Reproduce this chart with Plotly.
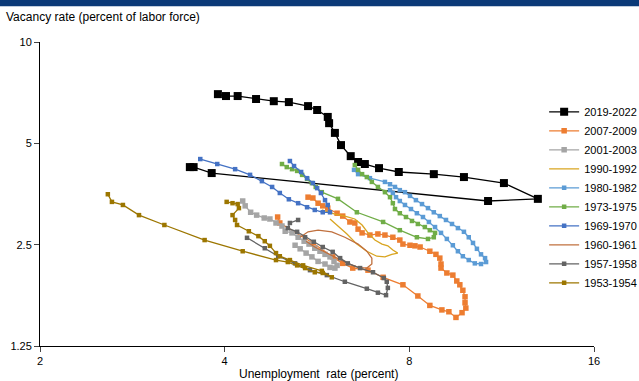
import plotly.graph_objects as go

# ---- data (unemployment %, vacancy % of labor force) ----
u_2019 = [3.51, 3.56, 3.81, 10.75, 12.96, 11.41, 9.82, 8.77, 7.69, 7.14, 6.77, 6.60, 6.42, 6.19, 6.05,
          5.92, 5.89, 5.66, 5.47, 5.09, 4.81, 4.50, 4.20, 4.02, 3.90]
v_2019 = [4.25, 4.25, 4.08, 3.37, 3.42, 3.81, 3.97, 4.05, 4.11, 4.22, 4.34, 4.40, 4.58, 4.94, 5.37,
          5.74, 5.99, 6.28, 6.45, 6.63, 6.67, 6.77, 6.91, 6.91, 7.00]

u_2007 = [5.47, 5.57, 5.68, 5.78, 5.89, 6.10, 6.23, 6.40, 6.52, 6.60, 6.70, 6.90, 7.11, 7.30, 7.52, 7.72,
          7.81, 8.02, 8.17, 8.33, 8.64, 8.84, 8.97, 9.01, 9.01, 9.21, 9.42, 9.56, 9.67, 9.78, 9.86, 9.86,
          9.89, 9.75, 9.53, 9.28, 9.04, 8.64, 8.26, 7.81, 7.25, 6.85, 6.47, 6.23, 6.00, 5.57, 4.92, 4.88]
v_2007 = [3.46, 3.44, 3.32, 3.26, 3.21, 3.10, 3.04, 2.92, 2.90, 2.78, 2.71, 2.67, 2.69, 2.67, 2.63, 2.58,
          2.51, 2.49, 2.48, 2.46, 2.39, 2.34, 2.28, 2.19, 2.13, 2.06, 2.03, 1.95, 1.90, 1.83, 1.75, 1.68,
          1.62, 1.57, 1.52, 1.58, 1.60, 1.65, 1.76, 1.90, 2.00, 2.10, 2.13, 2.20, 2.30, 2.53, 2.90, 3.02]

u_2001 = [4.28, 4.32, 4.41, 4.51, 4.64, 4.74, 4.85, 4.96, 5.02, 5.15, 5.27, 5.39, 5.49, 5.61, 5.72, 5.83,
          5.94, 6.03, 6.10, 6.05, 5.94, 5.83, 5.68, 5.55, 5.43, 5.31, 5.21]
v_2001 = [3.37, 3.26, 3.12, 3.06, 3.00, 2.98, 2.90, 2.84, 2.74, 2.71, 2.63, 2.56, 2.51, 2.44, 2.39, 2.34,
          2.30, 2.23, 2.17, 2.13, 2.14, 2.19, 2.23, 2.30, 2.36, 2.43, 2.49]

u_1990 = [5.76, 6.05, 6.28, 6.52, 6.70, 6.85, 7.03, 7.22, 7.38, 7.52, 7.66, 7.49, 7.30, 7.08, 6.82, 6.57,
          6.33, 6.12, 5.94]
v_1990 = [3.17, 3.08, 3.04, 2.98, 2.86, 2.71, 2.58, 2.51, 2.48, 2.41, 2.36, 2.34, 2.30, 2.31, 2.39, 2.51,
          2.69, 2.84, 2.98]

u_1980 = [6.50, 6.60, 6.90, 7.30, 7.44, 7.58, 7.72, 7.87, 8.02, 8.20, 8.39, 8.58, 8.77, 8.97, 9.18, 9.39,
          9.60, 9.82, 10.00, 10.16, 10.31, 10.47, 10.63, 10.67, 10.47, 10.23, 10.00, 9.78, 9.60, 9.42,
          9.21, 9.01, 8.81, 8.61, 8.42, 8.23, 8.05, 7.87, 7.72, 7.61, 7.52, 7.44]
v_1980 = [4.17, 4.05, 3.94, 3.84, 3.78, 3.71, 3.63, 3.58, 3.49, 3.39, 3.30, 3.21, 3.12, 3.04, 2.96, 2.88,
          2.80, 2.73, 2.63, 2.53, 2.43, 2.34, 2.28, 2.22, 2.19, 2.20, 2.25, 2.31, 2.39, 2.49,
          2.60, 2.71, 2.82, 2.92, 3.02, 3.10, 3.19, 3.28, 3.37, 3.46, 3.56, 3.63]

u_1973 = [4.96, 5.05, 5.15, 5.25, 5.35, 5.45, 5.55, 5.63, 5.76, 6.12, 6.57, 7.25, 7.72, 8.23, 8.58, 8.77,
          8.81, 8.64, 8.48, 8.26, 8.08, 7.90, 7.72, 7.58, 7.52, 7.44, 7.30, 7.11, 6.95, 6.82, 6.70, 6.60, 6.52]
v_1973 = [4.34, 4.25, 4.19, 4.14, 4.03, 3.92, 3.81, 3.71, 3.58, 3.42, 3.12, 2.92, 2.76, 2.63, 2.60, 2.63,
          2.71, 2.76, 2.82, 2.88, 2.94, 3.02, 3.10, 3.19, 3.32, 3.46, 3.58, 3.71, 3.84, 3.97, 4.05, 4.17, 4.31]

u_1969 = [3.65, 3.89, 4.16, 4.40, 4.60, 4.78, 4.92, 5.09, 5.27, 5.45, 5.61, 5.78, 5.94, 5.89, 5.83, 5.74,
          5.66, 5.57, 5.45, 5.33, 5.19, 5.11]
v_1969 = [4.49, 4.34, 4.19, 4.03, 3.86, 3.71, 3.56, 3.41, 3.32, 3.23, 3.17, 3.12, 3.12, 3.28, 3.39, 3.56,
          3.68, 3.81, 3.94, 4.11, 4.28, 4.43]

u_1960 = [5.31, 5.47, 5.68, 5.98, 6.28, 6.60, 6.82, 6.95, 6.95, 6.82, 6.60, 6.35, 6.10, 5.83, 5.61, 5.43]
v_1960 = [2.63, 2.73, 2.76, 2.73, 2.63, 2.51, 2.39, 2.28, 2.19, 2.13, 2.14, 2.20, 2.28, 2.38, 2.46, 2.56]

u_1957 = [4.35, 4.65, 4.89, 5.21, 5.51, 5.87, 6.28, 6.82, 7.11, 7.33, 7.38, 7.35, 7.27, 6.98, 6.65, 6.35,
          6.17, 6.00, 5.78, 5.59, 5.41, 5.25, 5.07, 5.11, 5.27]
v_1957 = [2.62, 2.44, 2.31, 2.20, 2.10, 2.03, 1.94, 1.85, 1.80, 1.77, 1.86, 1.94, 1.99, 2.07, 2.13, 2.20,
          2.28, 2.38, 2.46, 2.55, 2.63, 2.73, 2.80, 2.90, 2.96]

u_1953 = [2.58, 2.62, 2.73, 2.90, 3.19, 3.71, 4.28, 4.85, 5.07, 5.25, 5.41, 5.61, 5.78, 5.98, 5.76, 5.37,
          5.11, 4.92, 4.85, 4.74, 4.65, 4.54, 4.38, 4.19, 4.16, 4.12, 4.22, 4.20, 4.12, 4.03]
v_1953 = [3.53, 3.35, 3.28, 3.06, 2.86, 2.58, 2.39, 2.25, 2.22, 2.17, 2.13, 2.07, 2.06, 2.00, 2.09, 2.17,
          2.25, 2.31, 2.36, 2.48, 2.56, 2.65, 2.74, 2.86, 2.96, 3.06, 3.21, 3.30, 3.32, 3.35]

series = [
    ("2019-2022", u_2019, v_2019, "#000000", 8),
    ("2007-2009", u_2007, v_2007, "#ED7D31", 5.5),
    ("2001-2003", u_2001, v_2001, "#A5A5A5", 5.5),
    ("1990-1992", u_1990, v_1990, "#D9A521", 0),
    ("1980-1982", u_1980, v_1980, "#5B9BD5", 4.5),
    ("1973-1975", u_1973, v_1973, "#70AD47", 4.5),
    ("1969-1970", u_1969, v_1969, "#4472C4", 4.5),
    ("1960-1961", u_1960, v_1960, "#C0703E", 0),
    ("1957-1958", u_1957, v_1957, "#636363", 4.5),
    ("1953-1954", u_1953, v_1953, "#9C7600", 4.5),
]

fig = go.Figure()
for name, u, v, col, ms in series:
    mode = "lines+markers" if ms > 0 else "lines"
    fig.add_trace(go.Scatter(
        x=u, y=v, name=name, mode=mode,
        line=dict(color=col, width=1.3),
        marker=dict(symbol="square", size=ms if ms > 0 else 1, color=col, line=dict(width=0)),
    ))

FONT = "Liberation Sans, Arial, sans-serif"
fig.update_layout(
    width=639, height=381,
    margin=dict(l=40, r=45, t=42, b=35, autoexpand=False),
    paper_bgcolor="white", plot_bgcolor="white",
    font=dict(family=FONT, size=11, color="#000000"),
    showlegend=True,
    legend=dict(x=0.91, y=0.818, xanchor="left", yanchor="top",
                bgcolor="rgba(0,0,0,0)", font=dict(size=11, family=FONT),
                itemwidth=30, tracegroupgap=0),
    xaxis=dict(type="log", range=[0.30103, 1.20412], tickvals=[2, 4, 8, 16],
               ticktext=["2", "4", "8", "16"], ticks="outside", ticklen=5,
               showline=True, linecolor="#000000", linewidth=1, showgrid=False,
               zeroline=False, tickfont=dict(size=11)),
    yaxis=dict(type="log", range=[0.09691, 1.0], tickvals=[1.25, 2.5, 5, 10],
               ticktext=["1.25", "2.5", "5", "10"], ticks="outside", ticklen=5,
               showline=True, linecolor="#000000", linewidth=1, showgrid=False,
               zeroline=False, tickfont=dict(size=11)),
    shapes=[dict(type="rect", xref="paper", yref="paper", x0=-0.08, x1=1.09,
                 y0=1.118, y1=1.15, fillcolor="#0B3A78", line=dict(width=0))],
    annotations=[
        dict(text="Vacancy rate (percent of labor force)", xref="paper", yref="paper",
             x=-0.065, y=1.082, xanchor="left", yanchor="middle", showarrow=False,
             font=dict(size=12, family=FONT)),
        dict(text="Unemployment  rate (percent)", xref="paper", yref="paper",
             x=0.503, y=-0.062, xanchor="center", yanchor="top", showarrow=False,
             font=dict(size=12, family=FONT)),
    ],
)

fig.write_html("out.html", config={"displayModeBar": False},
               post_script="document.body.style.margin='0';")
